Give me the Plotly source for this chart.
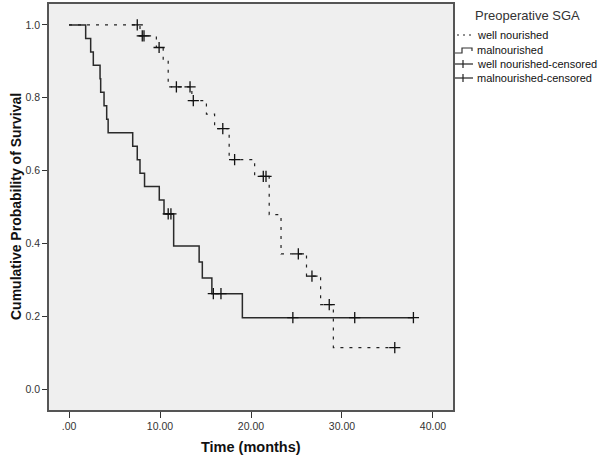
import plotly.graph_objects as go

# ---- data ----
wn_time = [0, 7.8, 9.6, 10.35, 10.9, 13.5, 15.1, 16.0, 17.6, 20.4, 22.0, 23.3, 26.1, 27.65, 29.05, 35.8]
wn_surv = [1.0, 0.970, 0.938, 0.904, 0.830, 0.792, 0.755, 0.715, 0.630, 0.584, 0.479, 0.371, 0.310, 0.232, 0.114, 0.114]

mn_time = [0, 1.83, 2.38, 2.67, 3.41, 3.48, 3.85, 4.14, 4.3, 7.0, 7.5, 7.8, 8.3, 9.92, 10.44, 11.5,
           14.3, 14.65, 15.7, 19.05, 37.85]
mn_surv = [1.0, 0.963, 0.926, 0.889, 0.852, 0.815, 0.778, 0.741, 0.704, 0.667, 0.630, 0.593, 0.556,
           0.519, 0.481, 0.393, 0.349, 0.305, 0.262, 0.196, 0.196]

wn_cens_t = [7.5, 8.05, 8.24, 9.9, 11.8, 13.3, 13.66, 16.9, 18.2, 21.35, 21.65, 25.2, 26.7, 28.6, 35.8]
wn_cens_s = [1.0, 0.970, 0.970, 0.938, 0.830, 0.830, 0.792, 0.715, 0.630, 0.584, 0.584, 0.371, 0.310, 0.232, 0.114]

mn_cens_t = [10.9, 11.2, 15.86, 16.7, 24.6, 31.4, 37.85]
mn_cens_s = [0.481, 0.481, 0.262, 0.262, 0.196, 0.196, 0.196]

x_tickvals = [0, 10, 20, 30, 40]
x_ticktext = [".00", "10.00", "20.00", "30.00", "40.00"]
y_tickvals = [0.0, 0.2, 0.4, 0.6, 0.8, 1.0]
y_ticktext = ["0.0", "0.2", "0.4", "0.6", "0.8", "1.0"]

x_title = "Time (months)"
y_title = "Cumulative Probability of Survival"
legend_title = "Preoperative SGA"
legend_labels = ["well nourished", "malnourished", "well nourished-censored", "malnourished-censored"]

# ---- layout geometry (pixels) ----
W, H = 600, 458
L, R, T, B = 49, 147, 4, 48
PW, PH = W - L - R, H - T - B


def px_x(p):
    return (p - L) / PW


def px_y(p):
    return (H - B - p) / PH


FONT = "Liberation Sans, Arial, sans-serif"

fig = go.Figure()

fig.add_trace(go.Scatter(x=mn_time, y=mn_surv, mode="lines", line_shape="hv",
                         line=dict(color="#2a2a2a", width=1.5), showlegend=False))
fig.add_trace(go.Scatter(x=wn_time, y=wn_surv, mode="lines", line_shape="hv",
                         line=dict(color="#222222", width=1.2, dash="3px,6px"), showlegend=False))
fig.add_trace(go.Scatter(x=wn_cens_t, y=wn_cens_s, mode="markers",
                         marker=dict(symbol="cross-thin", size=8, line=dict(color="#111111", width=1.3)),
                         showlegend=False))
fig.add_trace(go.Scatter(x=mn_cens_t, y=mn_cens_s, mode="markers",
                         marker=dict(symbol="cross-thin", size=8, line=dict(color="#111111", width=1.3)),
                         showlegend=False))

# ---- custom legend and axis titles ----
shapes = []
annotations = []
annotations.append(dict(text=f"<b>{y_title}</b>", x=px_x(16), y=px_y(207), xref="paper", yref="paper",
                        showarrow=False, xanchor="center", yanchor="middle", textangle=-90,
                        font=dict(family=FONT, size=14, color="#111111")))
annotations.append(dict(text=f"<b>{x_title}</b>", x=px_x(251), y=px_y(447), xref="paper", yref="paper",
                        showarrow=False, xanchor="center", yanchor="middle",
                        font=dict(family=FONT, size=14.5, color="#111111")))
annotations.append(dict(text=legend_title, x=px_x(527), y=px_y(15), xref="paper", yref="paper",
                        showarrow=False, xanchor="center", yanchor="middle",
                        font=dict(family=FONT, size=13, color="#333333")))
item_y = [35, 50, 64, 78]
for lab, yy in zip(legend_labels, item_y):
    annotations.append(dict(text=lab, x=px_x(475), y=px_y(yy), xref="paper", yref="paper",
                            showarrow=False, xanchor="left", yanchor="middle",
                            font=dict(family=FONT, size=11, color="#111111")))
# well nourished symbol: dotted
shapes.append(dict(type="line", xref="paper", yref="paper", x0=px_x(457), x1=px_x(474),
                   y0=px_y(35), y1=px_y(35), line=dict(color="#222222", width=1.2, dash="2px,4px")))
# malnourished symbol: step
shapes.append(dict(type="path", xref="paper", yref="paper",
                   path=f"M {px_x(455)},{px_y(53)} L {px_x(462)},{px_y(53)} L {px_x(462)},{px_y(48)} "
                        f"L {px_x(472)},{px_y(48)} L {px_x(472)},{px_y(51)}",
                   line=dict(color="#333333", width=1.2)))
# censored symbols
for yy in item_y[2:]:
    shapes.append(dict(type="line", xref="paper", yref="paper", x0=px_x(455), x1=px_x(473),
                       y0=px_y(yy), y1=px_y(yy), line=dict(color="#222222", width=1.2)))
    shapes.append(dict(type="line", xref="paper", yref="paper", x0=px_x(463), x1=px_x(463),
                       y0=px_y(yy - 4), y1=px_y(yy + 4), line=dict(color="#222222", width=1.2)))

fig.update_layout(
    width=W, height=H,
    margin=dict(l=L, r=R, t=T, b=B, pad=0, autoexpand=False),
    paper_bgcolor="white", plot_bgcolor="#efefef",
    font=dict(family=FONT, size=10, color="#222222"),
    shapes=shapes, annotations=annotations,
    showlegend=False,
)
fig.update_xaxes(range=[-2.2, 42.2], tickvals=x_tickvals, ticktext=x_ticktext,
                 ticks="outside", ticklen=6, tickwidth=1.2, tickcolor="#333333",
                 showgrid=False, zeroline=False, showline=True, linecolor="#555555", linewidth=1.5,
                 mirror=True, tickfont=dict(size=10.5, color="#333333"))
fig.update_yaxes(range=[-0.0575, 1.0575], tickvals=y_tickvals, ticktext=y_ticktext,
                 ticks="outside", ticklen=5, tickwidth=1.2, tickcolor="#333333",
                 showgrid=False, zeroline=False, showline=True, linecolor="#555555", linewidth=1.5,
                 mirror=True, tickfont=dict(size=10.5, color="#333333"))

fig.write_html("out.html", config={"displayModeBar": False},
               post_script="document.body.style.margin='0px';")
